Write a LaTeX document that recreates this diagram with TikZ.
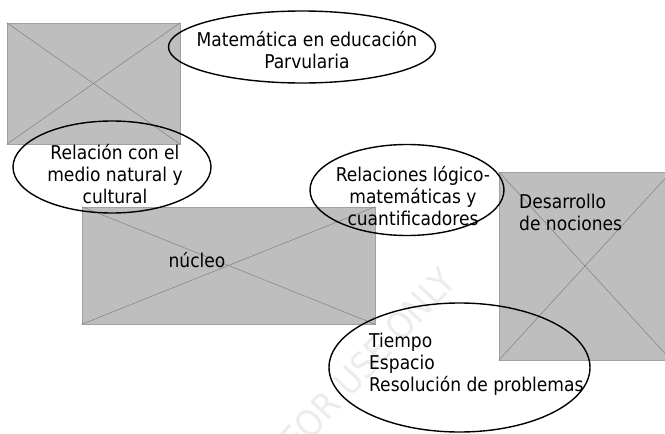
\documentclass[tikz,border=0pt]{standalone}
\usepackage{fontspec}
\setmainfont{DejaVu Sans Condensed}
\usetikzlibrary{shapes.geometric}

\definecolor{gris}{RGB}{191,190,191}
\definecolor{borde}{RGB}{160,160,160}
\definecolor{cruz}{RGB}{128,128,128}

\begin{document}
\begin{tikzpicture}[x=1pt,y=-1pt,
 caja/.style={draw=borde,fill=gris,line width=0.7pt,inner sep=0pt},
 diag/.style={draw=cruz,line width=0.5pt},
 elipse/.style={ellipse,draw,line width=1.4pt,inner sep=0pt},
 texto/.style={font=\fontsize{19}{22}\selectfont,inner sep=0pt}]
 \useasboundingbox (0,0) rectangle (665,434); %marco
 \clip (0,0) rectangle (665,434);

 \node[caja,minimum width=173pt,minimum height=121pt] (img1) at (93.5,83.5) {}; %imagen arriba
 \draw[diag] (img1.north west)--(img1.south east);
 \draw[diag] (img1.south west)--(img1.north east);
 \node[caja,minimum width=293pt,minimum height=117pt] (nucleo) at (228.5,265.5) {}; %imagen nucleo
 \draw[diag] (nucleo.north west)--(nucleo.south east);
 \draw[diag] (nucleo.south west)--(nucleo.north east);
 \node[caja,minimum width=172pt,minimum height=188pt] (img3) at (585,266) {}; %imagen derecha
 \draw[diag] (img3.north west)--(img3.south east);
 \draw[diag] (img3.south west)--(img3.north east);

 \node[text=gray!15,font=\fontsize{36}{36}\selectfont,rotate=47] (marca) at (368,360) {FOR USE ONLY}; %marca de agua

 \node[elipse,minimum width=267pt,minimum height=72pt] (mat) at (302,47) {}; %elipse 1
 \node[texto,align=center] (tmat) at (307,50) {Matemática en educación\\Parvularia};
 \node[elipse,minimum width=198pt,minimum height=92pt] (rel) at (112,167) {}; %elipse 2
 \node[texto,align=center] (trel) at (115,174) {Relación con el\\medio natural y\\cultural};
 \node[elipse,minimum width=194pt,minimum height=91pt] (log) at (407,190) {}; %elipse 3
 \node[texto,align=center] (tlog) at (413,196) {Relaciones lógico-\\matemáticas y\\cuantificadores};
 \node[elipse,minimum width=261pt,minimum height=129pt] (tie) at (459.5,367.5) {}; %elipse 4
 \node[texto,align=left,anchor=west] (ttie) at (369,364) {Tiempo\\Espacio\\Resolución de problemas};

 \node[texto,align=left,anchor=west] (tdes) at (519,212) {Desarrollo\\de nociones}; %texto derecha
 \node[texto,anchor=base] (tnuc) at (197,267) {núcleo}; %texto nucleo
\end{tikzpicture}
\end{document}
